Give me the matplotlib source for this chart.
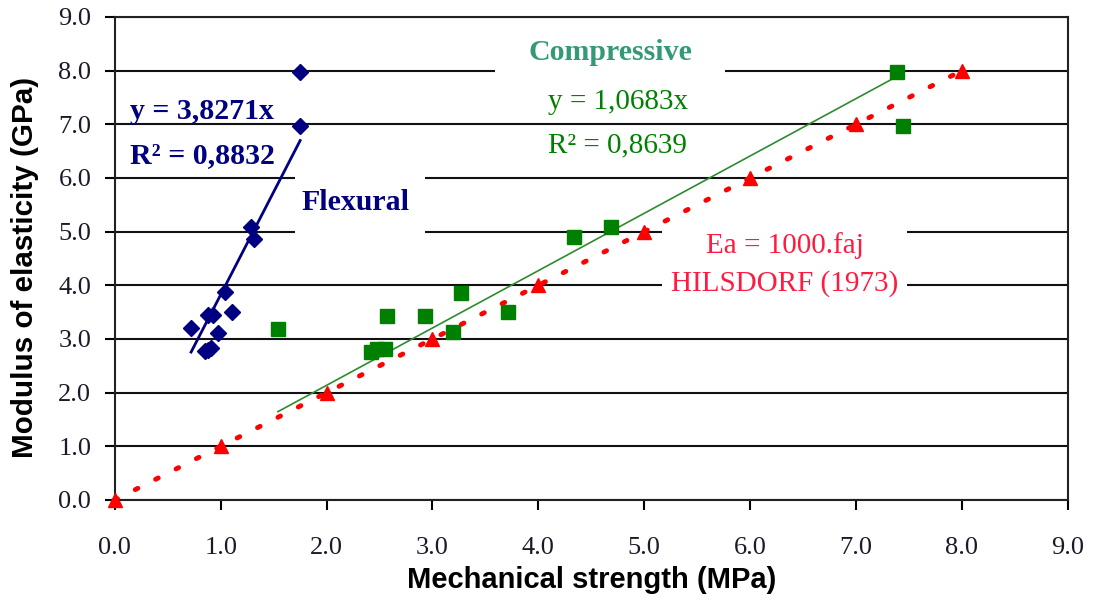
import numpy as np
import matplotlib
matplotlib.use("Agg")
import matplotlib.pyplot as plt
from matplotlib.patches import Rectangle

# flexural tests (diamonds)
flex_x = [0.72, 0.85, 0.88, 0.91, 0.88, 0.93, 0.97, 1.04, 1.11, 1.29, 1.31, 1.75, 1.75]
flex_y = [3.20, 2.78, 2.80, 2.83, 3.45, 3.45, 3.12, 3.88, 3.51, 5.09, 4.87, 6.96, 7.97]
flex_slope = 3.8271

# compressive tests (squares)
comp_x = [1.54, 2.42, 2.48, 2.55, 2.57, 2.93, 3.19, 3.27, 3.71, 4.34, 4.69, 7.39, 7.44]
comp_y = [3.18, 2.75, 2.82, 2.82, 3.43, 3.43, 3.13, 3.86, 3.51, 4.90, 5.08, 7.97, 6.96]
comp_slope = 1.0683

# Hilsdorf (1973): Ea = 1000.faj
hils_x = [0, 1, 2, 3, 4, 5, 6, 7, 8]
hils_y = [0, 1, 2, 3, 4, 5, 6, 7, 8]

ticks = np.arange(0, 9.5, 1.0)

navy = "#000080"
green = "#008000"
red = "#ff0000"
serif = "Liberation Serif"

fig = plt.figure(figsize=(10.94, 6.06), dpi=100)
ax = fig.add_axes([0.105, 0.175, 0.871, 0.797])

ax.set_xlim(0, 9)
ax.set_ylim(0, 9)
ax.set_xticks(ticks)
ax.set_yticks(ticks)
ax.set_xticklabels([f"{t:.1f}" for t in ticks])
ax.set_yticklabels([f"{t:.1f}" for t in ticks])
for lab in ax.get_xticklabels() + ax.get_yticklabels():
    lab.set_family(serif)
    lab.set_fontsize(19)
    lab.set_color("#1a1a2a")
ax.tick_params(axis="x", direction="out", length=7, width=1.5, pad=20)
ax.tick_params(axis="y", direction="out", length=7, width=1.5, pad=10)
for sp in ax.spines.values():
    sp.set_linewidth(1.5)
    sp.set_color("#222222")
ax.grid(axis="y", color="#111111", linewidth=1.5, zorder=0)
ax.set_axisbelow(True)

ax.set_xlabel("Mechanical strength (MPa)", family="Liberation Sans",
              fontweight="bold", fontsize=21, labelpad=5)
ax.set_ylabel("Modulus of elasticity (GPa)", family="Liberation Sans",
              fontweight="bold", fontsize=21.3)
ax.yaxis.set_label_coords(-0.080, 0.482)

# white label boxes that hide the grid behind the annotations
for (x0, y0, w, h) in [(1.70, 4.85, 1.23, 1.30), (3.59, 7.85, 2.17, 0.95),
                       (5.17, 3.85, 2.31, 1.30)]:
    ax.add_patch(Rectangle((x0, y0), w, h, facecolor="white",
                           edgecolor="none", zorder=1))

# Hilsdorf relation
ax.plot(hils_x, hils_y, color=red, linewidth=3.5, linestyle=(0, (0.6, 4.1)),
        dash_capstyle="round", zorder=2, clip_on=False)
ax.plot(hils_x, hils_y, linestyle="none", marker="^", markersize=10,
        color=red, zorder=3, clip_on=False)

# compressive data and trend line
cx = np.array([min(comp_x), max(comp_x)])
ax.plot(cx, comp_slope * cx, color="#2e8b2e", linewidth=1.2, zorder=2)
ax.plot(comp_x, comp_y, linestyle="none", marker="s", markersize=9.5,
        color=green, zorder=4)

# flexural data and trend line
fx = np.array([min(flex_x), max(flex_x)])
ax.plot(fx, flex_slope * fx, color=navy, linewidth=2, zorder=2)
ax.plot(flex_x, flex_y, linestyle="none", marker="D", markersize=8.5,
        color=navy, zorder=4)

ax.text(0.82, 7.23, f"y = {flex_slope:.4f}x".replace(".", ","), color=navy,
        family=serif, fontweight="bold", fontsize=21.5, ha="center", va="center", zorder=5)
ax.text(0.83, 6.42, "R² = 0,8832", color=navy, family=serif,
        fontweight="bold", fontsize=21.5, ha="center", va="center", zorder=5)
ax.text(2.27, 5.55, "Flexural", color=navy, family=serif, fontweight="bold",
        fontsize=21.5, ha="center", va="center", zorder=5)

ax.text(4.68, 8.34, "Compressive", color="#339977", family=serif,
        fontweight="bold", fontsize=21.5, ha="center", va="center", zorder=5)
ax.text(4.75, 7.41, f"y = {comp_slope:.4f}x".replace(".", ","), color=green,
        family=serif, fontsize=21, ha="center", va="center", zorder=5)
ax.text(4.75, 6.61, "R² = 0,8639", color=green, family=serif,
        fontsize=21, ha="center", va="center", zorder=5)

ax.text(6.33, 4.75, "Ea = 1000.faj", color="#ff1a40", family=serif,
        fontsize=21, ha="center", va="center", zorder=5)
ax.text(6.33, 4.04, "HILSDORF (1973)", color="#ff1a40", family=serif,
        fontsize=21, ha="center", va="center", zorder=5)

fig.savefig("out.png", dpi=100)
